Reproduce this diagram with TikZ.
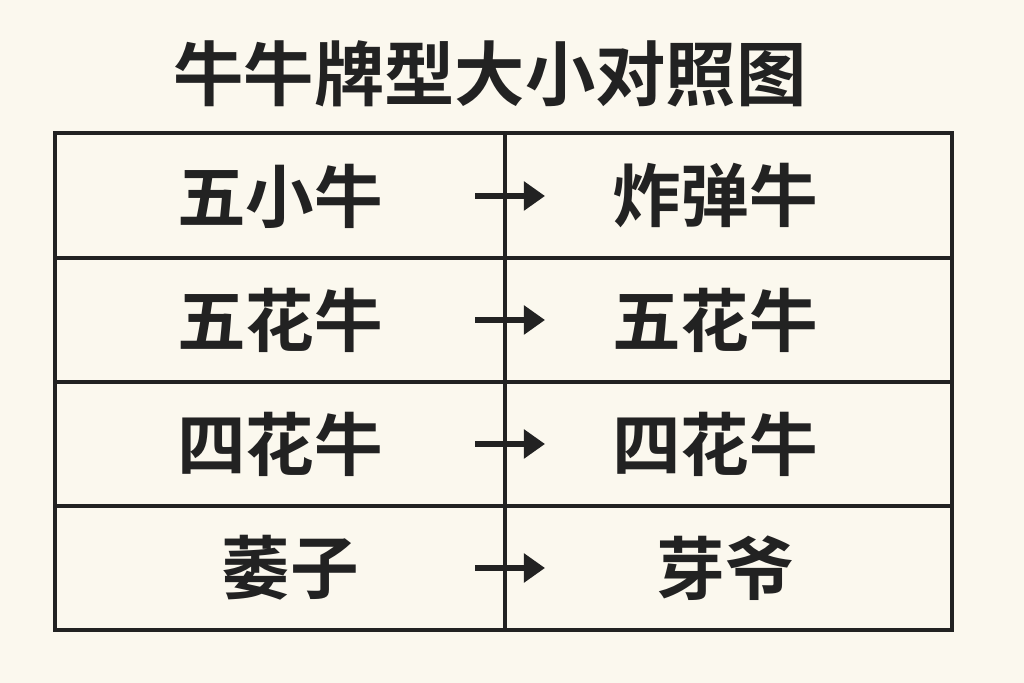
\documentclass[tikz,border=0pt]{standalone}
\usepackage{fontspec}
\newfontfamily\cjk{Noto Sans CJK SC Bold}
\usetikzlibrary{positioning,arrows.meta}
\definecolor{bgcream}{HTML}{FBF8EE}
\definecolor{ink}{HTML}{222222}
\tikzset{
  cell/.style={font=\cjk\fontsize{19.5pt}{22pt}\selectfont, text=ink},
  title/.style={font=\cjk\fontsize{20pt}{24pt}\selectfont, text=ink},
  grid/.style={draw=ink, line width=1.2pt},
  arrow/.style={draw=ink, line width=1.6pt, -{Triangle[length=6pt,width=8pt]}}
}
\begin{document}
\begin{tikzpicture}[x=0.01cm, y=-0.01cm]
	\fill[bgcream] (0,0) rectangle (1024,683);
	\useasboundingbox (0,0) rectangle (1024,683);
	\node (title) [title] at (490,74) {牛牛牌型大小对照图};

	% table frame
	\draw[grid] (55,133) rectangle (952,630);
	\foreach \y in {258,382,506}
		\draw[grid] (55,\y) -- (952,\y);
	\draw[grid] (505,133) -- (505,630);

	% rows
	\foreach \i/\y/\a/\b in {1/196/五小牛/炸弹牛, 2/320/五花牛/五花牛, 3/444/四花牛/四花牛}{
		\node (l\i) [cell] at (280,\y) {\a};
		\node (r\i) [cell] at (715,\y) {\b};
		\coordinate (s\i) at (475,\y);
		\coordinate (e\i) at (545,\y);
		\draw[arrow] (s\i) -- (e\i);
	}
	\node (l4) [cell] at (290,568) {萎子};
	\node (r4) [cell] at (725,568) {芽爷};
	\coordinate (s4) at (475,568);
	\coordinate (e4) at (545,568);
	\draw[arrow] (s4) -- (e4);
\end{tikzpicture}
\end{document}
